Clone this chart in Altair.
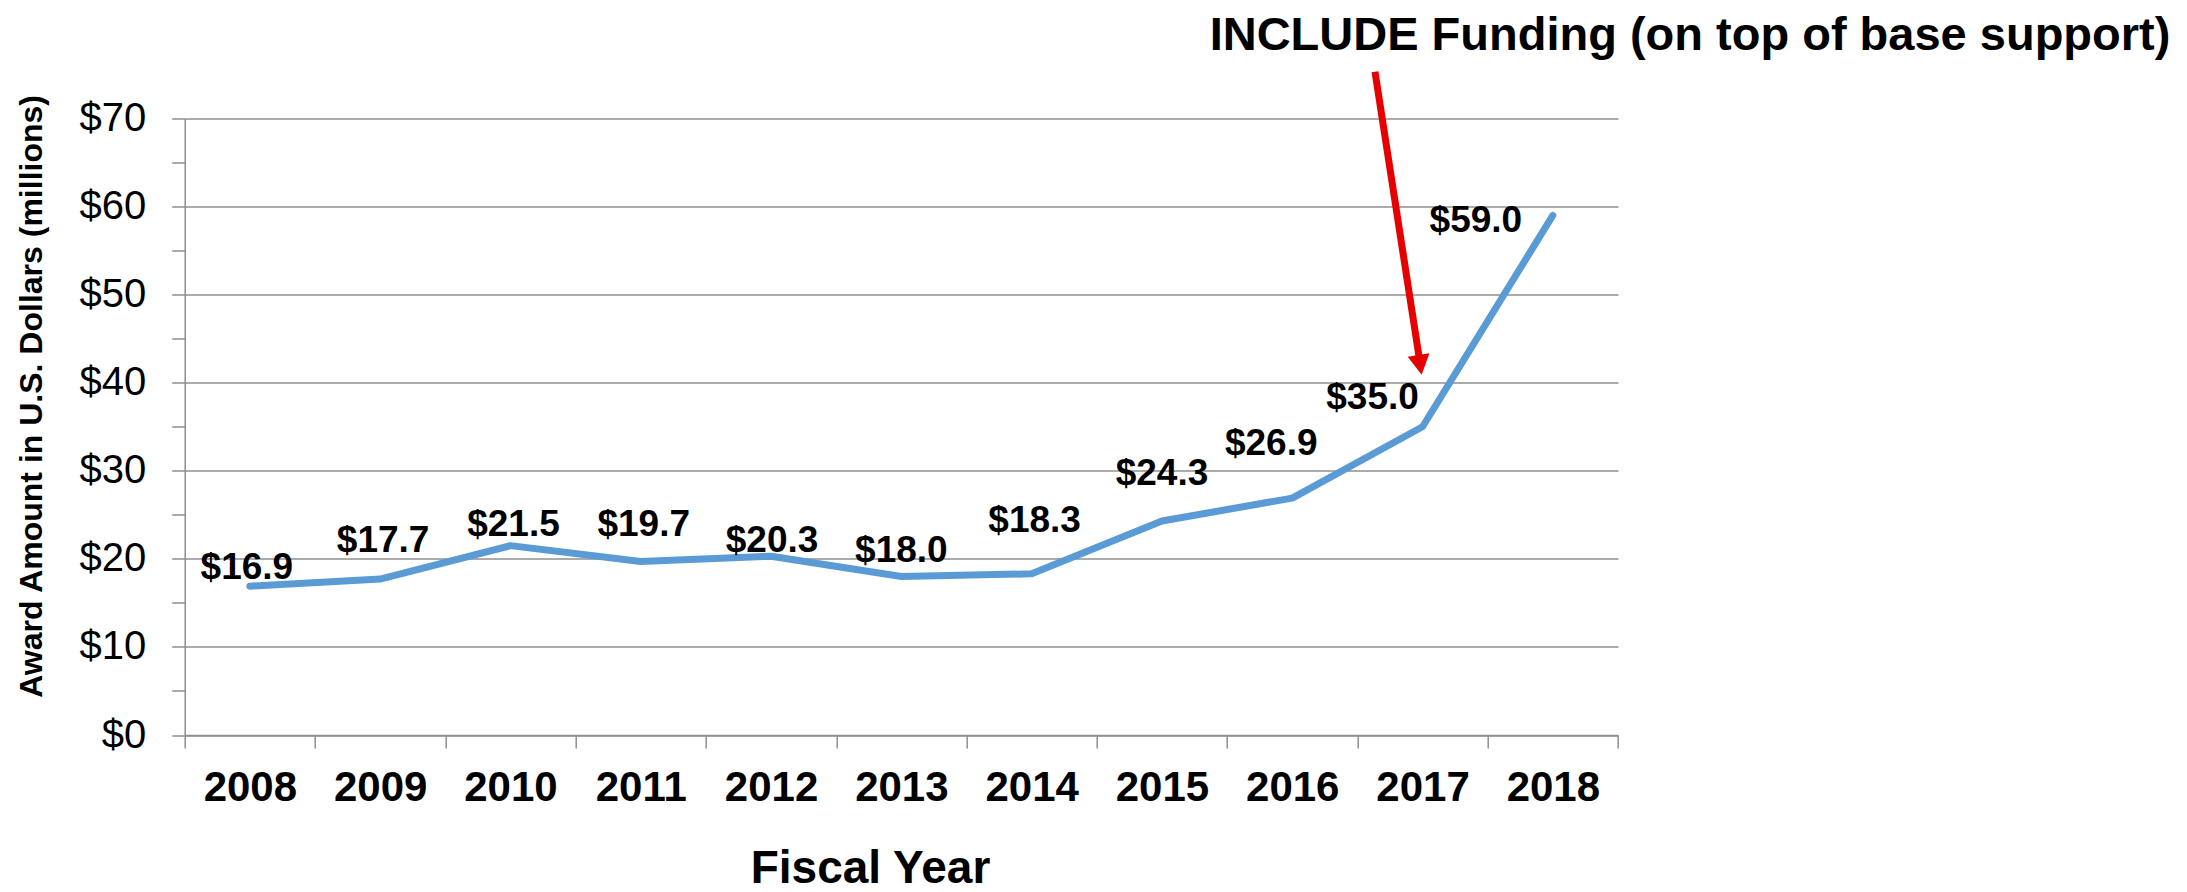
import altair as alt
import pandas as pd

# ---- data ----
years = [2008, 2009, 2010, 2011, 2012, 2013, 2014, 2015, 2016, 2017, 2018]
awards = [16.9, 17.7, 21.5, 19.7, 20.3, 18.0, 18.3, 24.3, 26.9, 35.0, 59.0]
y_ticks = [i * 2.5 for i in range(29)]          # 0 .. 70, minor every 2.5
x_ticks = [2007.5 + i * 0.5 for i in range(23)]  # band edges and centres
headline = "INCLUDE Funding (on top of base support)"
x_title = "Fiscal Year"
y_title = "Award Amount in U.S. Dollars (millions)"

# label nudges (pixels), styling only
label_dx = [-3, 3, 3, 3, 1, 0, 3, 0, -21, -50, -77]
label_dy = [-18, -38, -21, -36, -15, -25, -53, -47, -54, -29, 6]

# annotation arrow (data space)
arrow_tail = (2016.635, 75.3)
arrow_end = (2016.98, 42.3)
arrow_tip = (2016.993, 40.9)

df = pd.DataFrame({"year": years, "award": awards})
df["label"] = ["$" + f"{v:.1f}" for v in awards]

W, H = 1433.3, 616.5
PAD_L, PAD_T = 184.7, 118.5
GRAY = "#8f8f8f"
RED = "#e60000"
BLUE = "#5b9bd5"

xscale = alt.Scale(domain=[2007.5, 2018.5], nice=False, zero=False)
yscale = alt.Scale(domain=[0, 70], nice=False)

x_axis = alt.Axis(
    values=x_ticks,
    labelExpr="datum.value % 1 === 0 ? '' + datum.value : ''",
    tickOpacity={"condition": {"test": "datum.value % 1 !== 0", "value": 1}, "value": 0},
    grid=False,
    tickSize=13, tickWidth=1.5, tickColor=GRAY,
    domainColor=GRAY, domainWidth=1.5,
    labelFont="Liberation Sans", labelFontSize=42, labelFontWeight="bold",
    labelColor="black", labelPadding=52, labelBaseline="alphabetic",
    labelOverlap=False, labelFlush=False,
    titleFont="Liberation Sans", titleFontSize=46,
    titleFontWeight="bold", titleColor="black",
    titleX=685.3, titleY=147, titleAlign="center", titleBaseline="alphabetic",
)

y_axis = alt.Axis(
    values=y_ticks,
    labelExpr="datum.value % 10 === 0 ? '$' + datum.value : ''",
    gridOpacity={"condition": {"test": "datum.value % 10 === 0", "value": 1}, "value": 0},
    grid=True, gridColor=GRAY, gridWidth=1.5,
    tickSize=13, tickWidth=1.5, tickColor=GRAY,
    domainColor=GRAY, domainWidth=1.5,
    labelFont="Liberation Sans", labelFontSize=40, labelColor="black",
    labelPadding=26, labelOverlap=False, labelFlush=False, labelBaseline="middle",
    titleFont="Liberation Sans",
    titleFontSize=32, titleFontWeight="bold", titleColor="black",
    titleAngle=270, titleX=-143, titleY=277.4, titleAlign="center",
    titleBaseline="alphabetic",
)

line = alt.Chart(df).mark_line(
    color=BLUE, strokeWidth=7, strokeCap="round", strokeJoin="round"
).encode(
    x=alt.X("year:Q", scale=xscale, axis=x_axis, title=x_title),
    y=alt.Y("award:Q", scale=yscale, axis=y_axis, title=y_title),
)

layers = [line]
for i, yr in enumerate(years):
    t = alt.Chart(df).transform_filter(alt.datum.year == yr).mark_text(
        font="Liberation Sans", fontSize=37, fontWeight="bold", color="black",
        align="center", baseline="middle", dx=label_dx[i], dy=label_dy[i],
    ).encode(
        x=alt.X("year:Q", scale=xscale, title=x_title),
        y=alt.Y("award:Q", scale=yscale, title=y_title),
        text="label:N",
    )
    layers.append(t)

arrow_df = pd.DataFrame({
    "ax": [arrow_tail[0]], "ay": [arrow_tail[1]],
    "bx": [arrow_end[0]], "by": [arrow_end[1]],
    "tx": [arrow_tip[0]], "ty": [arrow_tip[1]],
})

shaft = alt.Chart(arrow_df).mark_rule(color=RED, strokeWidth=7).encode(
    x=alt.X("ax:Q", scale=xscale, title=x_title),
    y=alt.Y("ay:Q", scale=yscale, title=y_title),
    x2="bx:Q", y2="by:Q",
)
head = alt.Chart(arrow_df).mark_point(
    shape="M0,0 L-0.55,-1 L0.55,-1 Z", filled=True, size=1600,
    angle=351.2, color=RED, opacity=1, strokeWidth=0,
).encode(
    x=alt.X("tx:Q", scale=xscale, title=x_title),
    y=alt.Y("ty:Q", scale=yscale, title=y_title),
)

title_df = pd.DataFrame({"t": [headline]})
title = alt.Chart(title_df).mark_text(
    font="Liberation Sans", fontSize=47, fontWeight="bold", color="black",
    align="center", baseline="alphabetic",
).encode(
    x=alt.value(1690 - PAD_L), y=alt.value(50 - PAD_T), text="t:N",
)

layers += [shaft, head, title]

chart = alt.layer(*layers).properties(
    width=W, height=H,
    autosize=alt.AutoSizeParams(type="none"),
    padding={"left": PAD_L, "top": PAD_T, "right": 2187 - PAD_L - W, "bottom": 892 - PAD_T - H},
    background="white",
).configure_view(stroke="transparent")

chart.save("out.html", embed_options={"renderer": "svg", "actions": False})
